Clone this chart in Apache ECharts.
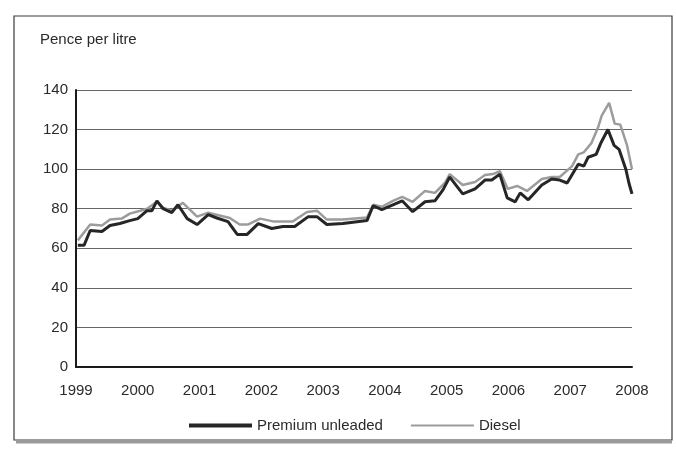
<!DOCTYPE html>
<html>
<head>
<meta charset="utf-8">
<script src="https://cdn.jsdelivr.net/npm/echarts@6/dist/echarts.min.js"></script>
<style>
html,body{margin:0;padding:0;background:#fff;}
#chart{width:676px;height:465px;}
</style>
</head>
<body>
<div id="chart"></div>
<script>
// Time positions (decimal years) and values in pence per litre
var premiumT = [1999.03,1999.13,1999.23,1999.42,1999.55,1999.71,1999.87,2000.00,2000.15,2000.23,2000.31,2000.41,2000.55,2000.65,2000.80,2000.96,2001.14,2001.28,2001.46,2001.61,2001.77,2001.95,2002.17,2002.35,2002.54,2002.76,2002.90,2003.06,2003.32,2003.71,2003.81,2003.95,2004.13,2004.28,2004.45,2004.65,2004.81,2004.94,2005.05,2005.26,2005.46,2005.62,2005.73,2005.86,2005.98,2006.11,2006.19,2006.32,2006.54,2006.70,2006.83,2006.95,2007.13,2007.22,2007.29,2007.42,2007.50,2007.61,2007.71,2007.79,2007.90,2007.95,2008.00];
var premiumV = [61.5,61.5,69,68.5,71.5,72.5,74,75,79,79,84,80,78,82,75,72,77,75.3,73.5,67,67,72.5,70,71,71,76,76,72,72.5,74,81.5,79.5,82,84,78.5,83.5,84,89.5,96,87.5,90,94.5,94.5,97.5,85.5,83.5,88,84.5,92,95,94.5,93,102.5,101.5,106,107.5,113.5,120,112,110,100,93,87.5];
var dieselT = [1999.03,1999.23,1999.42,1999.55,1999.74,1999.87,2000.04,2000.15,2000.31,2000.41,2000.55,2000.73,2000.96,2001.14,2001.49,2001.65,2001.78,2001.98,2002.19,2002.51,2002.74,2002.90,2003.06,2003.32,2003.71,2003.81,2003.95,2004.13,2004.28,2004.45,2004.65,2004.81,2004.97,2005.05,2005.26,2005.46,2005.62,2005.75,2005.86,2005.99,2006.14,2006.30,2006.54,2006.70,2006.83,2007.03,2007.13,2007.22,2007.34,2007.45,2007.51,2007.63,2007.72,2007.81,2007.92,2008.00];
var dieselV = [64,72,71.5,74.5,75,77.5,79,80,83.5,80.5,79,83,76,78,75.3,72,72,75,73.6,73.6,78.3,79,74.5,74.5,75.5,82,81,84,86,83.5,89,88,93,97.5,92,93.5,97,97.5,99,90,91.5,89,95,96,96,101.5,107.5,108.5,113,121,127,133.5,123,122.5,112,100];
var yearLabels = ['1999','2000','2001','2002','2003','2004','2005','2006','2007','2008'];
var yTicks = [0,20,40,60,80,100,120,140];
var seriesNames = ['Premium unleaded','Diesel'];

function pairs(t, v){ return t.map(function(x,i){ return [x, v[i]]; }); }

var FONT = '"Liberation Sans", Arial, Helvetica, sans-serif';
var chart = echarts.init(document.getElementById('chart'), null, {renderer:'canvas'});
chart.setOption({
  backgroundColor:'#ffffff',
  animation:false,
  textStyle:{fontFamily:FONT},
  grid:{left:76, right:44, top:90, bottom:98, containLabel:false},
  graphic:[
    {type:'rect', shape:{x:14,y:16,width:658,height:424}, style:{fill:'none', stroke:'#3a3a3a', lineWidth:1.2}, z:-1},
    {type:'line', shape:{x1:16,y1:442,x2:672,y2:442}, style:{stroke:'#9a9a9a', lineWidth:3}, z:-1},
    {type:'text', left:40, top:32, style:{text:'Pence per litre', font:'15px '+FONT, fill:'#2a2a2a'}}
  ],
  xAxis:{
    type:'value', min:1999, max:2008, interval:1,
    axisLine:{show:true, onZero:false, lineStyle:{color:'#1a1a1a', width:2}},
    axisTick:{show:false},
    splitLine:{show:false},
    axisLabel:{
      fontSize:15, color:'#2a2a2a', margin:16, fontFamily:FONT,
      formatter:function(v){ var i = Math.round(v-1999); return yearLabels[i] || ''; }
    }
  },
  yAxis:{
    type:'value', min:yTicks[0], max:yTicks[yTicks.length-1], interval:20,
    axisLine:{show:true, lineStyle:{color:'#1a1a1a', width:2}},
    axisTick:{show:false},
    splitLine:{show:true, lineStyle:{color:'#666666', width:1}},
    axisLabel:{fontSize:15, color:'#2a2a2a', margin:8, fontFamily:FONT}
  },
  legend:{
    left:182, top:413, itemWidth:63, itemHeight:14, itemGap:27,
    itemStyle:{opacity:0},
    textStyle:{fontSize:15, color:'#2a2a2a', fontFamily:FONT},
    data:[
      {name:seriesNames[0], lineStyle:{width:4, color:'#262626'}},
      {name:seriesNames[1], lineStyle:{width:2, color:'#9c9c9c'}}
    ]
  },
  series:[
    {name:seriesNames[1], type:'line', data:pairs(dieselT, dieselV), showSymbol:false, symbol:'none',
     lineStyle:{color:'#9c9c9c', width:2.5}, itemStyle:{color:'#9c9c9c'}, z:2},
    {name:seriesNames[0], type:'line', data:pairs(premiumT, premiumV), showSymbol:false, symbol:'none',
     lineStyle:{color:'#262626', width:3}, itemStyle:{color:'#262626'}, z:3}
  ]
});
</script>
</body>
</html>
